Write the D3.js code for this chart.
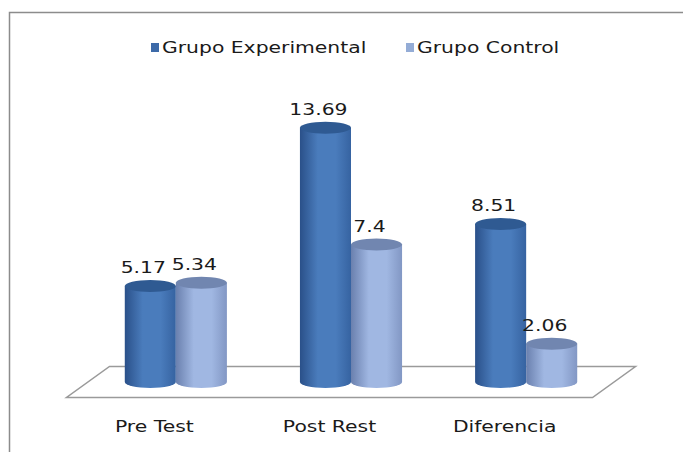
<!DOCTYPE html>
<html>
<head>
<meta charset="utf-8">
<script src="https://cdn.jsdelivr.net/npm/d3@7"></script>
<style>
  body { margin: 0; background: #fff; }
  svg { display: block; }
  text { font-family: "DejaVu Sans", Verdana, sans-serif; fill: #1a1a1a; }
</style>
</head>
<body>
<svg id="chart"></svg>
<script>
const width = 683
const height = 452

// data
const categories = ['Pre Test', 'Post Rest', 'Diferencia']
const series = ['Grupo Experimental', 'Grupo Control']
const experimental = [5.17, 13.69, 8.51]
const control = [5.34, 7.4, 2.06]
const seriesValues = [experimental, control]

const colors = {
  'Grupo Experimental': {edge: '#2a5089', mid: '#4a7cbc', right: '#3663a1', top: '#2f5a92', key: '#3d6aa8'},
  'Grupo Control': {edge: '#6a80ae', mid: '#a0b7e2', right: '#8297c4', top: '#7186b0', key: '#94acd6'}
}

// fake 3d floor: depth shift of the floor
const depthX = 43
const depthY = 31
const stretch = 1.27   // the source picture is wider than tall

const svg = d3.select('#chart').attr('width', width).attr('height', height)

// outer frame (runs off the right and bottom of the picture)
svg.append('rect')
  .attr('x', 9.5).attr('y', 12.5)
  .attr('width', 720).attr('height', 480)
  .attr('fill', '#fff')
  .attr('stroke', '#8c8c8c').attr('stroke-width', 1.5)

// scales (x at mid depth of the floor)
const x0 = d3.scaleBand().domain(categories).range([88, 614]).paddingInner(0.417).paddingOuter(0.21)
const x1 = d3.scaleBand().domain(series).range([0, x0.bandwidth()])
const y = d3.scaleLinear().domain([0, 14]).range([382, 122])

const rx = x1.bandwidth() / 2
const ry = 6

// gradients for the cylinders
const defs = svg.append('defs')
series.forEach((s, i) => {
  const c = colors[s]
  const g = defs.append('linearGradient').attr('id', 'grad' + i)
    .attr('x1', '0%').attr('x2', '100%').attr('y1', '0%').attr('y2', '0%')
  g.append('stop').attr('offset', '0%').attr('stop-color', c.edge)
  g.append('stop').attr('offset', '35%').attr('stop-color', c.mid)
  g.append('stop').attr('offset', '70%').attr('stop-color', c.mid)
  g.append('stop').attr('offset', '100%').attr('stop-color', c.right)
})

// floor
const [r0, r1] = x0.range()
const y0 = y(0)
const floor = [
  [r0 + depthX / 2, y0 - depthY / 2],
  [r1 + depthX / 2, y0 - depthY / 2],
  [r1 - depthX / 2, y0 + depthY / 2],
  [r0 - depthX / 2, y0 + depthY / 2]
]
svg.append('path')
  .attr('d', d3.line()(floor) + 'Z')
  .attr('fill', '#fff')
  .attr('stroke', '#9a9a9a').attr('stroke-width', 1.5)

// build bar rows
const bars = []
categories.forEach((cat, ci) => {
  series.forEach((s, si) => {
    bars.push({cat: cat, series: s, si: si, value: seriesValues[si][ci]})
  })
})

// cylinders
const cyl = svg.append('g').selectAll('g').data(bars).enter().append('g')

cyl.append('path')
  .attr('d', d => {
    const cx = x0(d.cat) + x1(d.series) + rx
    const top = y(d.value)
    return `M${cx - rx},${top} L${cx - rx},${y0} A${rx},${ry} 0 0 0 ${cx + rx},${y0} L${cx + rx},${top} Z`
  })
  .attr('fill', d => `url(#grad${d.si})`)

cyl.append('ellipse')
  .attr('cx', d => x0(d.cat) + x1(d.series) + rx)
  .attr('cy', d => y(d.value))
  .attr('rx', rx).attr('ry', ry)
  .attr('fill', d => colors[d.series].top)

// value labels
svg.append('g').selectAll('text').data(bars).enter().append('text')
  .attr('x', d => x0(d.cat) + x1(d.series) + rx - 7)
  .attr('y', d => y(d.value) - ry - 7)
  .attr('text-anchor', 'middle')
  .attr('font-size', 16)
  .text(d => d.value)

// category labels, at the front edge of the floor
svg.append('g').selectAll('text').data(categories).enter().append('text')
  .attr('x', d => x0(d) + x0.bandwidth() / 2 - depthX / 2)
  .attr('y', 432)
  .attr('text-anchor', 'middle')
  .attr('font-size', 16)
  .text(d => d)

// legend
const legendX = [151, 406]
const legend = svg.append('g').selectAll('g').data(series).enter().append('g')
  .attr('transform', (d, i) => `translate(${legendX[i]}, 43)`)
legend.append('rect')
  .attr('width', 8).attr('height', 9)
  .attr('fill', d => colors[d].key)
legend.append('text')
  .attr('x', 11).attr('y', 10)
  .attr('font-size', 16)
  .text(d => d)

// widen all texts like the source picture
svg.selectAll('text').each(function () {
  const t = d3.select(this)
  const w = this.getComputedTextLength()
  t.attr('textLength', w * stretch).attr('lengthAdjust', 'spacingAndGlyphs')
})
</script>
</body>
</html>
